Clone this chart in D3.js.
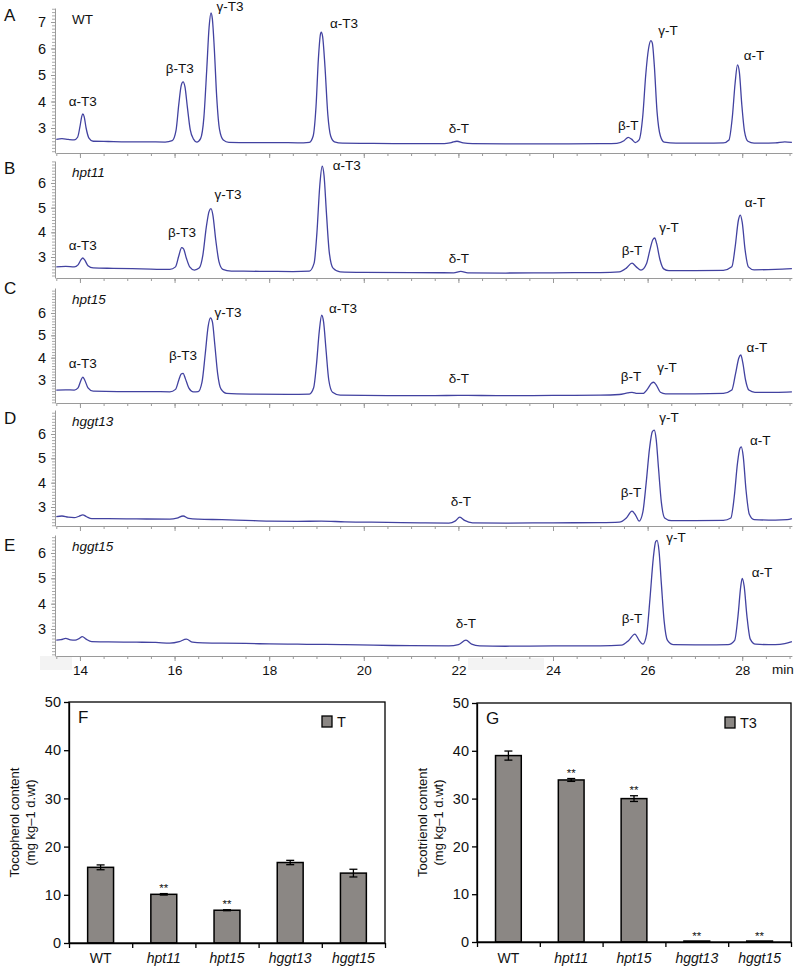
<!DOCTYPE html>
<html><head><meta charset="utf-8">
<script src="https://cdn.jsdelivr.net/npm/d3@7"></script>
<style>
body{margin:0;background:#fff}
text{font-family:"Liberation Sans",Arial,Helvetica,sans-serif}
</style>
</head><body><svg id="c" width="795" height="966"></svg>
<script>
// ---------- DATA: chromatograms (retention time [min], signal) ----------
const traceA = [[13.50,2.57],[13.62,2.60],[13.75,2.57],[13.88,2.55],[13.95,2.65],[14.00,3.05],[14.04,3.45],[14.06,3.53],[14.09,3.42],[14.13,3.0],[14.19,2.62],[14.28,2.50],[14.6,2.49],[15.0,2.48],[15.4,2.48],[15.8,2.47],[15.95,2.52],[16.03,2.9],[16.09,3.9],[16.14,4.6],[16.18,4.74],[16.22,4.55],[16.27,3.8],[16.33,2.95],[16.40,2.58],[16.47,2.47],[16.55,2.6],[16.62,3.4],[16.68,5.2],[16.73,6.8],[16.77,7.34],[16.80,7.1],[16.84,6.0],[16.89,4.2],[16.95,2.95],[17.03,2.55],[17.15,2.46],[17.6,2.45],[18.2,2.45],[18.6,2.44],[18.85,2.46],[18.93,2.7],[18.99,3.8],[19.04,5.6],[19.08,6.5],[19.10,6.62],[19.13,6.45],[19.18,5.3],[19.24,3.5],[19.30,2.7],[19.38,2.48],[19.55,2.43],[20.2,2.42],[21.0,2.41],[21.7,2.41],[21.85,2.45],[21.97,2.50],[22.1,2.44],[22.3,2.41],[23.0,2.40],[24.0,2.40],[25.0,2.41],[25.35,2.42],[25.50,2.52],[25.59,2.65],[25.66,2.58],[25.74,2.45],[25.82,2.55],[25.90,3.5],[25.96,5.0],[26.02,6.0],[26.07,6.3],[26.10,6.2],[26.14,5.4],[26.20,3.6],[26.27,2.7],[26.35,2.47],[26.6,2.43],[27.2,2.43],[27.6,2.44],[27.72,2.55],[27.79,3.4],[27.85,4.7],[27.90,5.38],[27.94,5.1],[27.99,3.9],[28.05,2.85],[28.12,2.5],[28.25,2.43],[28.7,2.44],[28.9,2.48],[29.05,2.46]];
const traceB = [[13.5,2.6],[13.7,2.62],[13.88,2.6],[13.96,2.68],[14.02,2.88],[14.06,2.96],[14.10,2.88],[14.17,2.65],[14.28,2.56],[14.7,2.54],[15.3,2.52],[15.9,2.5],[16.02,2.6],[16.09,3.05],[16.15,3.38],[16.19,3.33],[16.25,2.95],[16.32,2.6],[16.42,2.47],[16.52,2.55],[16.60,3.1],[16.67,4.2],[16.73,4.85],[16.77,4.96],[16.81,4.7],[16.87,3.7],[16.94,2.8],[17.02,2.5],[17.2,2.43],[17.8,2.42],[18.5,2.41],[18.85,2.43],[18.95,2.75],[19.01,4.0],[19.07,5.9],[19.12,6.68],[19.16,6.3],[19.21,4.8],[19.27,3.2],[19.35,2.55],[19.5,2.4],[20.0,2.38],[21.0,2.37],[21.9,2.36],[22.05,2.42],[22.2,2.36],[23.0,2.35],[24.0,2.36],[25.0,2.37],[25.4,2.4],[25.55,2.55],[25.67,2.75],[25.76,2.6],[25.86,2.47],[25.98,2.75],[26.05,3.3],[26.11,3.7],[26.15,3.77],[26.19,3.55],[26.26,2.9],[26.34,2.52],[26.45,2.45],[27.0,2.45],[27.6,2.46],[27.78,2.6],[27.85,3.4],[27.92,4.5],[27.96,4.7],[28.00,4.4],[28.06,3.3],[28.13,2.6],[28.25,2.48],[28.7,2.5],[29.05,2.53]];
const traceC = [[13.5,2.55],[13.7,2.56],[13.88,2.55],[13.96,2.65],[14.02,2.98],[14.06,3.13],[14.10,3.0],[14.17,2.65],[14.28,2.5],[14.8,2.48],[15.5,2.48],[15.9,2.47],[16.02,2.58],[16.09,3.0],[16.14,3.27],[16.18,3.3],[16.23,3.05],[16.30,2.65],[16.40,2.47],[16.50,2.48],[16.58,2.9],[16.65,4.2],[16.71,5.4],[16.76,5.78],[16.80,5.6],[16.85,4.6],[16.91,3.3],[16.98,2.6],[17.1,2.4],[17.6,2.37],[18.4,2.36],[18.85,2.37],[18.94,2.65],[19.0,3.7],[19.06,5.2],[19.11,5.9],[19.15,5.6],[19.2,4.4],[19.26,3.0],[19.34,2.45],[19.5,2.32],[20.5,2.3],[21.5,2.3],[22.0,2.31],[23.0,2.3],[24.0,2.31],[25.0,2.32],[25.4,2.35],[25.58,2.42],[25.67,2.45],[25.78,2.4],[25.9,2.4],[26.0,2.6],[26.08,2.85],[26.13,2.9],[26.19,2.75],[26.27,2.45],[26.38,2.38],[27.0,2.38],[27.6,2.4],[27.78,2.55],[27.86,3.3],[27.93,4.0],[27.97,4.12],[28.01,3.8],[28.07,3.0],[28.14,2.55],[28.27,2.45],[28.7,2.45],[29.05,2.47]];
const traceD = [[13.5,2.6],[13.62,2.63],[13.75,2.58],[13.88,2.56],[13.98,2.62],[14.06,2.68],[14.14,2.6],[14.25,2.52],[14.6,2.52],[15.2,2.51],[15.9,2.5],[16.05,2.54],[16.18,2.63],[16.3,2.53],[16.5,2.5],[17.0,2.48],[17.5,2.45],[18.0,2.42],[18.6,2.41],[19.1,2.42],[19.6,2.39],[20.5,2.37],[21.2,2.35],[21.8,2.34],[21.93,2.42],[22.03,2.58],[22.13,2.45],[22.3,2.35],[23.0,2.34],[24.0,2.35],[25.0,2.36],[25.4,2.38],[25.55,2.55],[25.67,2.83],[25.75,2.65],[25.82,2.42],[25.9,2.8],[25.97,4.0],[26.04,5.4],[26.1,6.1],[26.14,6.16],[26.18,5.8],[26.23,4.6],[26.29,3.2],[26.36,2.55],[26.5,2.44],[27.0,2.44],[27.6,2.45],[27.76,2.55],[27.83,3.4],[27.9,4.8],[27.95,5.4],[27.98,5.47],[28.02,5.1],[28.08,3.7],[28.15,2.7],[28.25,2.48],[28.7,2.46],[28.95,2.48],[29.05,2.52]];
const traceE = [[13.5,2.56],[13.6,2.58],[13.7,2.63],[13.8,2.57],[13.9,2.56],[13.98,2.62],[14.05,2.7],[14.13,2.6],[14.25,2.5],[14.6,2.49],[15.2,2.48],[15.6,2.47],[15.9,2.44],[16.1,2.5],[16.25,2.6],[16.38,2.48],[16.6,2.45],[17.0,2.44],[17.5,2.43],[18.0,2.41],[18.6,2.4],[19.2,2.39],[19.6,2.38],[20.2,2.36],[21.0,2.34],[21.8,2.33],[22.0,2.38],[22.16,2.56],[22.28,2.4],[22.45,2.33],[23.0,2.32],[24.0,2.33],[25.0,2.33],[25.45,2.36],[25.6,2.55],[25.73,2.8],[25.82,2.55],[25.9,2.4],[25.98,2.8],[26.05,4.2],[26.12,5.8],[26.17,6.45],[26.2,6.5],[26.24,6.1],[26.29,4.8],[26.35,3.3],[26.42,2.55],[26.55,2.38],[27.2,2.37],[27.7,2.38],[27.84,2.55],[27.91,3.5],[27.97,4.7],[28.0,5.0],[28.04,4.7],[28.1,3.5],[28.17,2.6],[28.28,2.4],[28.7,2.38],[28.9,2.42],[29.05,2.5]];

// peak labels: [text, time, signal] (label anchor in data units)
const labelsA = [["α-T3",14.06,3.83],["β-T3",16.11,5.08],["γ-T3",17.17,7.42],["α-T3",19.58,6.77],["δ-T",22.01,2.81],["β-T",25.59,2.92],["γ-T",26.43,6.51],["α-T",28.25,5.57]];
const labelsB = [["α-T3",14.06,3.28],["β-T3",16.16,3.81],["γ-T3",17.13,5.35],["α-T3",19.64,6.52],["δ-T",22.01,2.76],["β-T",25.67,3.08],["γ-T",26.45,4.01],["α-T",28.27,5.02]];
const labelsC = [["α-T3",14.06,3.54],["β-T3",16.18,3.9],["γ-T3",17.13,5.83],["α-T3",19.56,6.0],["δ-T",22.01,2.87],["β-T",25.65,2.96],["γ-T",26.41,3.36],["α-T",28.31,4.26]];
const labelsD = [["δ-T",22.05,3.04],["β-T",25.65,3.41],["γ-T",26.45,6.5],["α-T",28.38,5.55]];
const labelsE = [["δ-T",22.16,3.04],["β-T",25.67,3.24],["γ-T",26.6,6.45],["α-T",28.42,5.06]];

const panelLetters = ["A","B","C","D","E"];
const sampleNames = ["WT","hpt11","hpt15","hggt13","hggt15"];
const yTicksA = [3,4,5,6,7];
const yTicksOther = [3,4,5,6];
const timeTicks = [14,16,18,20,22,24,26,28];
const timeUnit = "min";

// ---------- DATA: bar charts ----------
const categories = ["WT","hpt11","hpt15","hggt13","hggt15"];
const tocopherol = [15.7,10.1,6.8,16.7,14.5];
const tocopherolErr = [0.5,0.15,0.1,0.45,0.8];
const tocopherolSig = ["","**","**","",""];
const tocotrienol = [39.0,33.9,30.0,0.2,0.2];
const tocotrienolErr = [0.95,0.3,0.6,0,0];
const tocotrienolSig = ["","**","**","**","**"];
const barTicks = [0,10,20,30,40,50];

// ---------- DRAW ----------
const svg = d3.select("#c");
const FONT = '"Liberation Sans",Arial,Helvetica,sans-serif';
const LINE = "#4242a0", AXIS = "#9a9a9a";

// light scan artefacts under bottom axis
svg.append("rect").attr("x",40).attr("y",656).attr("width",32).attr("height",14).attr("fill","#f3f3f3");
svg.append("rect").attr("x",468).attr("y",658).attr("width",76).attr("height",12).attr("fill","#f3f3f3");

const x = d3.scaleLinear().domain([13.5, 29.05]).range([56.3, 791.9]);

const panels = [
  {trace:traceA, labels:labelsA, ticks:yTicksA, y3:128, yTop:22, top:8, bottom:153, letterY:21},
  {trace:traceB, labels:labelsB, ticks:yTicksOther, y3:257, yTop:183, top:161, bottom:278, letterY:174},
  {trace:traceC, labels:labelsC, ticks:yTicksOther, y3:380, yTop:313, top:288, bottom:403, letterY:294},
  {trace:traceD, labels:labelsD, ticks:yTicksOther, y3:507, yTop:434, top:410, bottom:526, letterY:424},
  {trace:traceE, labels:labelsE, ticks:yTicksOther, y3:629, yTop:553, top:535, bottom:656, letterY:551}
];

panels.forEach((p, i) => {
  const maxT = p.ticks[p.ticks.length-1];
  const y0 = d3.scaleLinear().domain([3, maxT]).range([p.y3, p.yTop]);
  const y = d3.scaleLinear().domain([y0.invert(p.bottom), y0.invert(p.top)]).range([p.bottom, p.top]);
  const g = svg.append("g");

  // y axis: minor ticks
  const lo = y.domain()[0], hi = y.domain()[1];
  const minor = d3.range(Math.ceil(lo*8)/8, hi, 0.125);
  g.append("g").attr("transform","translate(55,0)")
    .call(d3.axisLeft(y).tickValues(minor).tickSize(3).tickSizeOuter(0).tickFormat(""))
    .call(a => a.attr("color", AXIS))
    .call(a => a.selectAll("line").attr("stroke","#aaa"));
  g.append("g").attr("transform","translate(55,0)")
    .call(d3.axisLeft(y).tickValues(p.ticks).tickSize(4).tickSizeOuter(0).tickPadding(5).tickFormat(d3.format("d")))
    .call(a => a.attr("color", AXIS))
    .call(a => a.select(".domain").remove())
    .call(a => a.selectAll("text").attr("fill","#111").attr("font-size",14.5).attr("font-family",FONT));

  // x axis
  const minorT = d3.range(13.5, 29.01, 0.5);
  g.append("g").attr("transform",`translate(0,${p.bottom})`)
    .call(d3.axisBottom(x).tickValues(minorT).tickSize(3).tickSizeOuter(0).tickFormat(""))
    .call(a => a.attr("color", AXIS));
  g.append("g").attr("transform",`translate(0,${p.bottom})`)
    .call(d3.axisBottom(x).tickValues(timeTicks).tickSize(5).tickSizeOuter(0).tickPadding(4)
      .tickFormat(i === 4 ? d3.format("d") : ""))
    .call(a => a.attr("color", AXIS))
    .call(a => a.select(".domain").remove())
    .call(a => a.selectAll("text").attr("fill","#111").attr("font-size",13.5).attr("font-family",FONT));
  if (i === 4) {
    g.append("text").attr("x",772).attr("y",674).attr("font-size",13.5).attr("fill","#111").text(timeUnit);
  }

  // trace
  const line = d3.line().x(d => x(d[0])).y(d => y(d[1])).curve(d3.curveMonotoneX);
  g.append("path").datum(p.trace).attr("d", line)
    .attr("fill","none").attr("stroke",LINE).attr("stroke-width",1.3).attr("stroke-linejoin","round");

  // peak labels
  g.selectAll("text.pk").data(p.labels).join("text").attr("class","pk")
    .attr("x", d => x(d[1])).attr("y", d => y(d[2]))
    .attr("text-anchor","middle").attr("font-size",13.5).attr("fill","#111")
    .text(d => d[0]);

  // panel letter and sample name
  g.append("text").attr("x",4).attr("y",p.letterY).attr("font-size",17).attr("fill","#111").text(panelLetters[i]);
  g.append("text").attr("x",72).attr("y",p.top+16).attr("font-size",13.5).attr("fill","#111")
    .attr("font-style", i === 0 ? "normal" : "italic").text(sampleNames[i]);
});

// ---------- bar charts ----------
function barChart(o) {
  const g = svg.append("g");
  const y = d3.scaleLinear().domain([0,50]).range([o.y0, o.y50]);
  const xb = d3.scaleBand().domain(categories).range([o.x0, o.x1]).paddingInner(0.59).paddingOuter(0.295);
  const xl = d3.scaleLinear().domain([0, categories.length]).range([o.x0, o.x1]);

  g.selectAll("rect.bar").data(o.values).join("rect").attr("class","bar")
    .attr("x",(d,i) => xb(categories[i])).attr("width", xb.bandwidth())
    .attr("y", d => y(d)).attr("height", d => y(0) - y(d))
    .attr("fill","#8b8784").attr("stroke","#000").attr("stroke-width",1.5);

  o.values.forEach((v,i) => {
    const e = o.err[i]; if (!e) return;
    const cx = xb(categories[i]) + xb.bandwidth()/2;
    g.append("line").attr("x1",cx).attr("x2",cx).attr("y1",y(v-e)).attr("y2",y(v+e)).attr("stroke","#000").attr("stroke-width",1.3);
    [v-e, v+e].forEach(w => g.append("line").attr("x1",cx-4).attr("x2",cx+4).attr("y1",y(w)).attr("y2",y(w)).attr("stroke","#000").attr("stroke-width",1.3));
  });
  o.values.forEach((v,i) => {
    if (!o.sig[i]) return;
    const cx = xb(categories[i]) + xb.bandwidth()/2;
    g.append("text").attr("x",cx).attr("y",y(v + o.err[i]) - 1.5).attr("text-anchor","middle")
      .attr("font-size",11.5).attr("fill","#111").text(o.sig[i]);
  });

  g.append("rect").attr("x",o.x0).attr("y",o.y50).attr("width",o.x1-o.x0).attr("height",o.y0-o.y50)
    .attr("fill","none").attr("stroke","#000").attr("stroke-width",1.3);

  g.append("g").attr("transform",`translate(${o.x0},0)`)
    .call(d3.axisLeft(y).tickValues(barTicks).tickSize(5).tickSizeOuter(0).tickPadding(3))
    .call(a => a.attr("color","#000"))
    .call(a => a.select(".domain").attr("stroke-width",1.3))
    .call(a => a.selectAll("line").attr("stroke-width",1.3))
    .call(a => a.selectAll("text").attr("fill","#111").attr("font-size",14.5).attr("font-family",FONT));
  g.append("g").attr("transform",`translate(0,${o.y0})`)
    .call(d3.axisBottom(xl).tickValues(d3.range(0, categories.length+1)).tickSize(5).tickSizeOuter(0).tickFormat(""))
    .call(a => a.attr("color","#000"))
    .call(a => a.selectAll("line").attr("stroke-width",1.3))
    .call(a => a.select(".domain").attr("stroke-width",1.3));
  g.selectAll("text.cat").data(categories).join("text").attr("class","cat")
    .attr("x", d => xb(d) + xb.bandwidth()/2).attr("y", 963).attr("text-anchor","middle")
    .attr("font-size",14).attr("fill","#111").attr("font-style",(d,i) => i === 0 ? "normal" : "italic")
    .text(d => d);

  g.append("text").attr("x",o.x0+9).attr("y",o.y50+21).attr("font-size",17).attr("fill","#111").text(o.letter);
  g.append("rect").attr("x",o.legX).attr("y",o.y50+14).attr("width",10).attr("height",11)
    .attr("fill","#8b8784").attr("stroke","#000").attr("stroke-width",1.3);
  g.append("text").attr("x",o.legX+15).attr("y",o.y50+25).attr("font-size",14.5).attr("fill","#111").text(o.legend);

  const cy = (o.y0 + o.y50)/2;
  g.append("text").attr("transform",`translate(${o.x0-50},${cy}) rotate(-90)`).attr("text-anchor","middle")
    .attr("font-size",13).attr("fill","#111").text(o.title1);
  g.append("text").attr("transform",`translate(${o.x0-34},${cy}) rotate(-90)`).attr("text-anchor","middle")
    .attr("font-size",13).attr("fill","#111").text(o.title2);
}

barChart({x0:69, x1:385, y0:943, y50:702, values:tocopherol, err:tocopherolErr, sig:tocopherolSig,
  letter:"F", legend:"T", legX:322, title1:"Tocopherol content", title2:"(mg kg–1 d.wt)"});
barChart({x0:477, x1:791, y0:942, y50:703, values:tocotrienol, err:tocotrienolErr, sig:tocotrienolSig,
  letter:"G", legend:"T3", legX:725, title1:"Tocotrienol content", title2:"(mg kg–1 d.wt)"});
</script>
</body></html>
